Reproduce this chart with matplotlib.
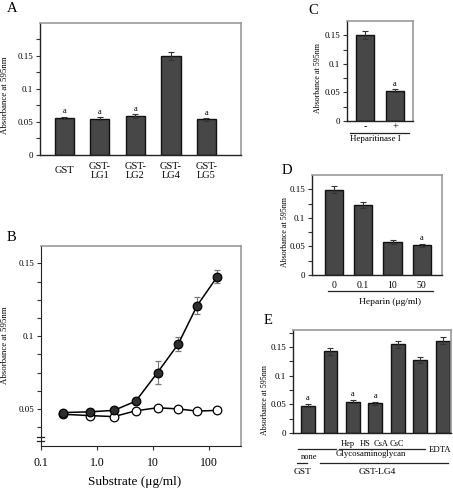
import numpy as np
import matplotlib
matplotlib.use('Agg')
import matplotlib.pyplot as plt
from matplotlib.lines import Line2D
from matplotlib.ticker import NullLocator

plt.rcParams['font.family'] = ['Liberation Serif', 'DejaVu Serif']

# ---- data ----
# A: binding of GST fusion proteins
a_labels = ['GST', 'GST-\nLG1', 'GST-\nLG2', 'GST-\nLG4', 'GST-\nLG5']
a_vals = [0.056, 0.055, 0.059, 0.150, 0.054]
a_err = [0.002, 0.002, 0.003, 0.006, 0.002]
a_sig = [True, True, True, False, True]

# B: substrate titration
b_conc = [0.25, 0.75, 2.0, 4.9, 12, 28, 61, 140]
b_lg4 = [0.0475, 0.048, 0.049, 0.0553, 0.075, 0.0945, 0.121, 0.141]
b_lg4_err = [0.001, 0.001, 0.0015, 0.002, 0.008, 0.005, 0.006, 0.0045]
b_gst = [0.0463, 0.0454, 0.0447, 0.0487, 0.0508, 0.050, 0.0485, 0.049]
b_xticks = [0.1, 1, 10, 100]
b_xticklabels = ['0.1', '1.0', '10', '100']

# C: heparitinase I
c_labels = ['-', '+']
c_vals = [0.150, 0.053]
c_err = [0.007, 0.003]
c_sig = [False, True]

# D: heparin competition
d_labels = ['0', '0.1', '10', '50']
d_vals = [0.149, 0.123, 0.058, 0.052]
d_err = [0.006, 0.005, 0.003, 0.003]
d_sig = [False, False, False, True]

# E: glycosaminoglycans / EDTA
e_vals = [0.048, 0.143, 0.055, 0.052, 0.155, 0.127, 0.161]
e_err = [0.003, 0.006, 0.003, 0.003, 0.006, 0.005, 0.006]
e_sig = [True, False, True, True, False, False, False]
e_gags = ['Hep', 'HS', 'CsA', 'CsC']

ylab = 'Absorbance at 595nm'

W, H = 453, 490
fig = plt.figure(figsize=(W / 100, H / 100), dpi=100)


def px_axes(l, t, r, b):
    return fig.add_axes([l / W, 1 - b / H, (r - l) / W, (b - t) / H])


def ftext(x, y, s, **kw):
    kw.setdefault('ha', 'center')
    kw.setdefault('va', 'center')
    fig.text(x / W, 1 - y / H, s, **kw)


def fline(x1, x2, y, lw=0.9):
    fig.add_artist(Line2D([x1 / W, x2 / W], [1 - y / H] * 2,
                          transform=fig.transFigure, color='#222', lw=lw))


def style(ax, ymax, step=0.025):
    for s in ['top', 'right']:
        ax.spines[s].set_color('#9a9a9a')
        ax.spines[s].set_linewidth(1.2)
    for s in ['left', 'bottom']:
        ax.spines[s].set_color('#222')
        ax.spines[s].set_linewidth(1.0)
    ax.set_ylim(0, ymax)
    ax.set_yticks([0, 0.05, 0.1, 0.15])
    ax.set_yticklabels(['0', '0.05', '0.1', '0.15'])
    ax.set_yticks(np.arange(0.025, ymax, 0.05), minor=True)
    ax.tick_params(axis='y', which='both', direction='out', length=3,
                   width=0.8, labelsize=6.5, pad=2, color='#333')
    ax.tick_params(axis='x', length=0)


def bars(ax, vals, err, sig, width):
    x = np.arange(len(vals))
    ax.bar(x, vals, width=width, color='#474747', edgecolor='#111',
           linewidth=1.0, yerr=err,
           error_kw=dict(ecolor='#333', elinewidth=0.8, capsize=2.5, capthick=0.8))
    for xi, v, e, s in zip(x, vals, err, sig):
        if s:
            ax.annotate('a', (xi, v + e), xytext=(0, 1), textcoords='offset points',
                        ha='center', va='bottom', fontsize=6)
    return x


# ---- panel A ----
axA = px_axes(40, 23, 241, 155)
xa = bars(axA, a_vals, a_err, a_sig, 0.54)
style(axA, 0.2)
axA.set_xlim(-0.68, 4.97)
axA.set_xticks(xa)
axA.set_xticklabels(a_labels, fontsize=7.5, linespacing=0.95)
for lbl in axA.get_xticklabels():
    lbl.set_va('center')
axA.tick_params(axis='x', pad=11.5)
ftext(5.5, 95, ylab, rotation=90, fontsize=6.3)
ftext(12, 9, 'A', fontsize=10.5)

# ---- panel B ----
axB = px_axes(41, 246, 241, 446)
axB.plot(b_conc, b_gst, '-o', color='black', lw=1.1, ms=6.2,
         mfc='white', mec='black', mew=0.9, zorder=3)
axB.errorbar(b_conc, b_lg4, yerr=b_lg4_err, fmt='-o', color='black', lw=1.1,
             ms=6.2, mfc='#2e2e2e', mec='black', mew=0.9, ecolor='#777',
             elinewidth=0.8, capsize=2.5, zorder=4)
axB.set_xscale('log')
axB.set_xlim(0.1, 370)
axB.set_ylim(0.0245, 0.162)
axB.set_xticks(b_xticks)
axB.set_xticklabels(b_xticklabels)
axB.xaxis.set_minor_locator(NullLocator())
axB.set_yticks([0.05, 0.1, 0.15])
axB.set_yticklabels(['0.05', '0.1', '0.15'])
axB.set_yticks([0.0375, 0.0625, 0.075, 0.0875, 0.1125, 0.125, 0.1375], minor=True)
for s in ['top', 'right']:
    axB.spines[s].set_color('#9a9a9a')
    axB.spines[s].set_linewidth(1.2)
for s in ['left', 'bottom']:
    axB.spines[s].set_color('#222')
axB.tick_params(axis='y', which='both', direction='out', length=3, width=0.8,
                labelsize=6.5, pad=2, color='#333')
axB.tick_params(axis='x', which='both', direction='out', length=3, width=0.8,
                labelsize=8.5, pad=5, color='#333')
# axis break marks
for yb in [0.045, 0.025]:
    axB.plot([-0.02, 0.016], [yb, yb], transform=axB.transAxes, color='#222',
             lw=0.9, clip_on=False)
ftext(5, 345, ylab, rotation=90, fontsize=6.3)
ftext(135, 482, 'Substrate (\u03bcg/ml)', fontsize=9.5)
ftext(11, 237, 'B', fontsize=10.5)

# ---- panel C ----
axC = px_axes(347, 21, 413, 121)
xc = bars(axC, c_vals, c_err, c_sig, 0.63)
style(axC, 0.175)
axC.set_xlim(-0.6, 1.6)
axC.set_xticks(xc)
axC.set_xticklabels(c_labels, fontsize=7.5)
axC.tick_params(axis='x', pad=1)
fline(350, 409, 133)
ftext(375, 139, 'Heparitinase I', fontsize=6.5)
ftext(318, 78, ylab, rotation=90, fontsize=5.8)
ftext(313, 10, 'C', fontsize=10.5)

# ---- panel D ----
axD = px_axes(312, 175, 442, 275)
xd = bars(axD, d_vals, d_err, d_sig, 0.62)
style(axD, 0.175)
axD.set_xlim(-0.75, 3.69)
axD.set_xticks(xd)
axD.set_xticklabels(d_labels, fontsize=7)
axD.tick_params(axis='x', pad=4)
fline(328, 433, 291)
ftext(390, 302, 'Heparin (\u03bcg/ml)', fontsize=6.8)
ftext(285, 232, ylab, rotation=90, fontsize=5.8)
ftext(287, 170, 'D', fontsize=10.5)

# ---- panel E ----
axE = px_axes(293, 330, 451, 433)
xe = bars(axE, e_vals, e_err, e_sig, 0.62)
style(axE, 0.18)
axE.set_xlim(-0.667, 6.36)
axE.set_xticks([])
for gx, g in zip([348, 365, 381, 397], e_gags):
    ftext(gx, 444, g, fontsize=6)
fline(339, 425, 449)
fline(298, 336, 449)
ftext(440, 450, 'EDTA', fontsize=6.3)
ftext(309, 457, 'none', fontsize=6)
ftext(371, 454, 'Glycosaminoglycan', fontsize=6.3)
fline(297, 307, 463)
fline(320, 448, 463)
ftext(303, 472, 'GST', fontsize=6.8)
ftext(377, 472, 'GST-LG4', fontsize=6.8)
ftext(265, 400, ylab, rotation=90, fontsize=5.8)
ftext(268, 321, 'E', fontsize=10.5)

fig.savefig('out.png', dpi=100)
